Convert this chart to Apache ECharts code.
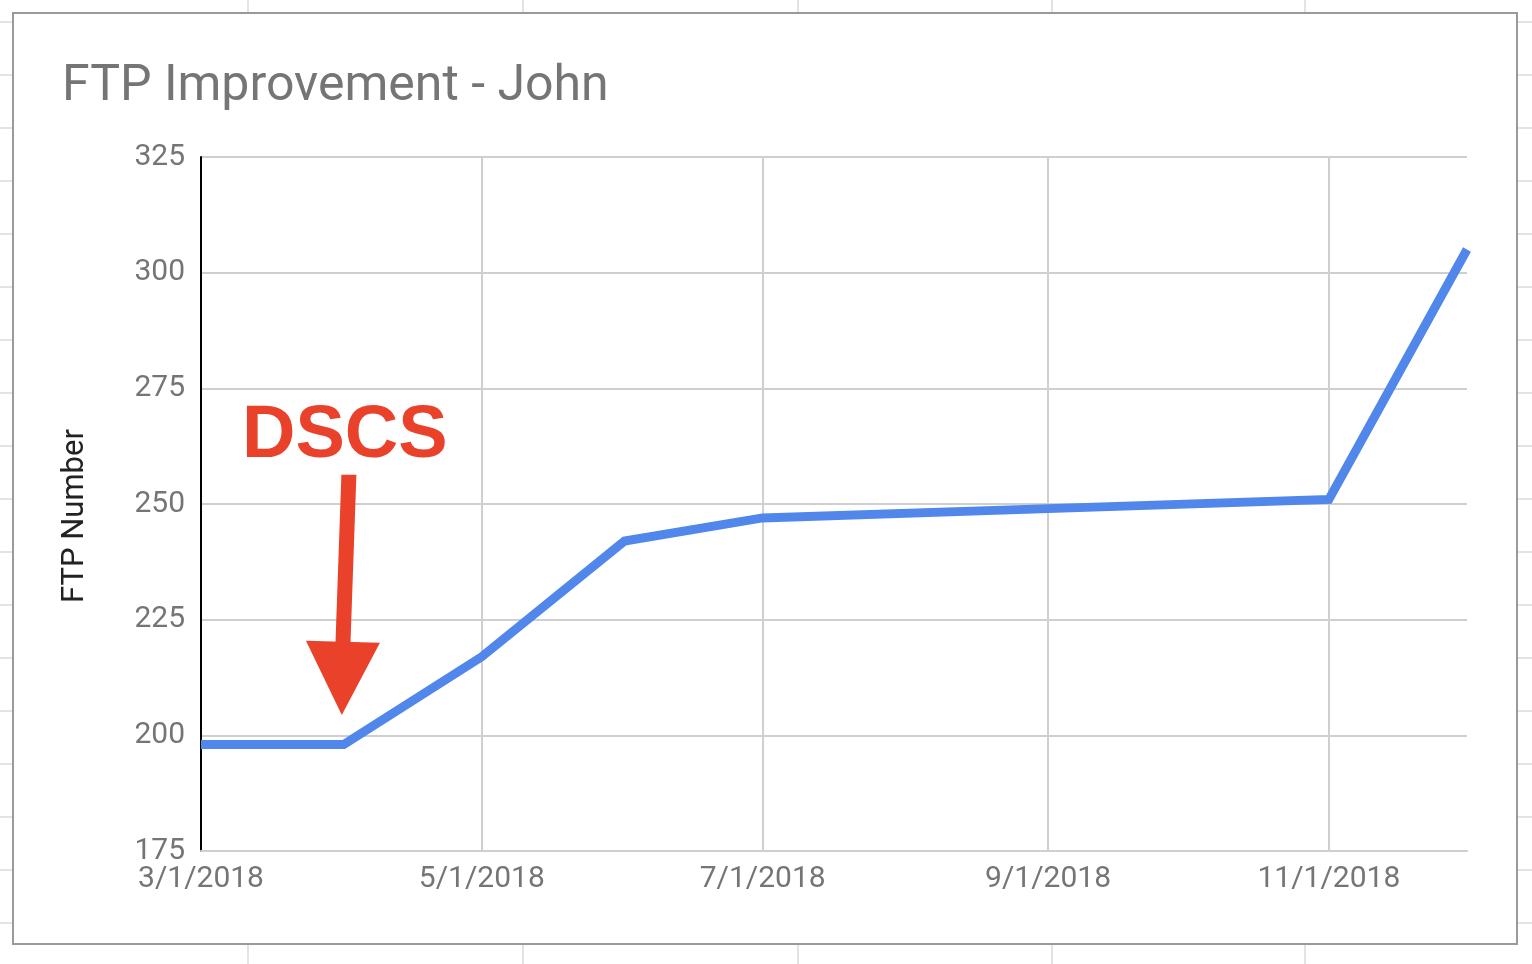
<!DOCTYPE html>
<html>
<head>
<meta charset="utf-8">
<script src="https://cdn.jsdelivr.net/npm/echarts@6/dist/echarts.min.js"></script>
<style>
html,body{margin:0;padding:0;background:#fff;}
#chart{width:1532px;height:964px;}
</style>
</head>
<body>
<div id="chart"></div>
<script>
// ---- data ----
const dates = ['2018-03-01','2018-04-01','2018-05-01','2018-06-01','2018-07-01','2018-09-01','2018-11-01','2018-12-01'];
const ftpValues = [198, 198, 217, 242, 247, 249, 251, 305];
const xTickDates = ['2018-03-01','2018-05-01','2018-07-01','2018-09-01','2018-11-01'];
const yTicks = [175, 200, 225, 250, 275, 300, 325];
const titleText = 'FTP Improvement - John';
const yAxisName = 'FTP Number';
// annotation (data coordinates)
const annotationText = 'DSCS';
const annotationTextAt = ['2018-04-01T06:00', 264.6];
const arrowTail = ['2018-04-02T03:00', 256.3];
const arrowBaseCenter = ['2018-03-31T20:00', 220.2];
const arrowTip = ['2018-03-31T14:00', 204.4];

const chart = echarts.init(document.getElementById('chart'));

function ts(s){ return new Date(s).getTime(); }
function fmtDate(v){
  const d = new Date(v);
  return (d.getMonth()+1) + '/' + d.getDate() + '/' + d.getFullYear();
}

// spreadsheet background decoration
const bg = [];
for (let y = 22; y <= 964; y += 53) {
  bg.push({type:'line', z:-100, shape:{x1:0,y1:y,x2:1532,y2:y}, style:{stroke:'#e3e3e3', lineWidth:2}, silent:true});
}
[248, 523, 798, 1052, 1305].forEach(x => {
  bg.push({type:'line', z:-100, shape:{x1:x,y1:0,x2:x,y2:964}, style:{stroke:'#e3e3e3', lineWidth:2}, silent:true});
});
bg.push({type:'rect', z:-99, shape:{x:13,y:13,width:1504,height:931}, style:{fill:'#fff', stroke:'#9a9a9a', lineWidth:2}, silent:true});

const xTickValues = xTickDates.map(ts);

chart.setOption({
  animation: false,
  title: {
    text: titleText,
    left: 57, top: 57,
    textStyle: {fontFamily:'Roboto', fontSize:50, fontWeight:'normal', color:'#757575'}
  },
  grid: {left:201, right:65, top:157, bottom:113},
  xAxis: {
    type: 'value',
    min: ts(dates[0]),
    max: ts(dates[dates.length-1]),
    axisLine: {show:true, lineStyle:{color:'#cfcfcf', width:2}},
    axisTick: {show:false, customValues: xTickValues},
    axisLabel: {
      customValues: xTickValues,
      formatter: v => fmtDate(v),
      fontFamily:'Roboto', fontSize:30, color:'#757575', margin:13
    },
    splitLine: {show:true, lineStyle:{color:'#cfcfcf', width:2}}
  },
  yAxis: {
    type: 'value',
    min: yTicks[0], max: yTicks[yTicks.length-1], interval: 25,
    name: yAxisName,
    nameLocation: 'middle',
    nameGap: 110,
    nameRotate: 90,
    nameTextStyle: {fontFamily:'Roboto', fontSize:31, color:'#222', padding:[0, 24, 0, 0]},
    axisLine: {show:true, lineStyle:{color:'#000', width:2}},
    axisTick: {show:false},
    axisLabel: {fontFamily:'Roboto', fontSize:30, color:'#757575', margin:16},
    splitLine: {show:true, lineStyle:{color:'#cfcfcf', width:2}}
  },
  graphic: bg,
  series: [{
    type: 'line',
    data: dates.map((d,i) => [ts(d), ftpValues[i]]),
    showSymbol: false,
    symbol: 'none',
    lineStyle: {color:'#5187eb', width:9, join:'miter', cap:'butt'},
    clip: true
  }]
});

function px(p){ return chart.convertToPixel({gridIndex:0}, [ts(p[0]), p[1]]); }

const tail = px(arrowTail), base = px(arrowBaseCenter), tip = px(arrowTip), tpos = px(annotationTextAt);
const shaftW = 15, headW = 74;
const red = '#e9412a';
chart.setOption({
  graphic: bg.concat([
    {type:'polygon', z:100, shape:{points:[
      [tail[0]-shaftW/2, tail[1]], [tail[0]+shaftW/2, tail[1]],
      [base[0]+shaftW/2, base[1]+2], [base[0]-shaftW/2, base[1]+2]
    ]}, style:{fill:red}},
    {type:'polygon', z:100, shape:{points:[
      [base[0]-headW/2, base[1]-1], [base[0]+headW/2, base[1]+1], [tip[0], tip[1]]
    ]}, style:{fill:red}},
    {type:'text', z:100, x:tpos[0], y:tpos[1], style:{
      text: annotationText, fill: red, font: 'bold 74px "Liberation Sans", Arial, sans-serif',
      align:'center', verticalAlign:'middle'
    }}
  ])
});
</script>
</body>
</html>
